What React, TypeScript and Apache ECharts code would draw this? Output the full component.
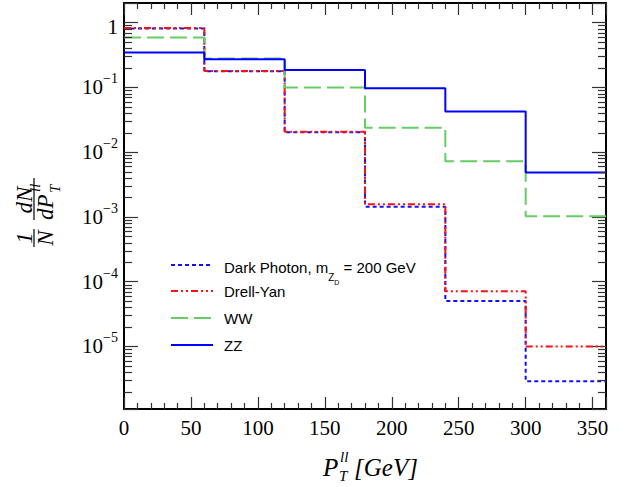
import React, { useEffect, useRef } from 'react';
import * as echarts from 'echarts';

// Bin edges in GeV
const binEdges = [0, 60, 120, 180, 240, 300, 360];
// Normalised distributions (1/N dN/dPT) per bin
const darkPhoton = [0.81, 0.176, 0.0203, 0.00143, 0.00005, 0.0000029];
const drellYan = [0.82, 0.178, 0.0205, 0.00157, 0.000071, 0.00001];
const wwValues = [0.588, 0.279, 0.099, 0.0237, 0.0072, 0.00102];
const zzValues = [0.345, 0.27, 0.185, 0.0966, 0.0423, 0.00484];

const xMin = 0;
const xMax = 360;
const xInterval = 50;
const yMin = 1.08e-6;
const yMax = 2;

const SERIF = "'Liberation Serif', 'Times New Roman', serif";
const SANS = "'Liberation Sans', Arial, sans-serif";
const TICK = '#333333';

function stepData(vals: number[]) {
  return binEdges.map((e, i) => [e, vals[Math.min(i, vals.length - 1)]]);
}

const seriesDefs = [
  { name: 'Dark Photon', data: darkPhoton, color: '#1010ff', width: 2, dash: [4, 3] as any },
  { name: 'Drell-Yan', data: drellYan, color: '#ff1010', width: 2, dash: [7, 3, 2, 3, 2, 3] as any },
  { name: 'WW', data: wwValues, color: '#66cc66', width: 2, dash: [17, 6] as any },
  { name: 'ZZ', data: zzValues, color: '#0000ff', width: 2, dash: 'solid' as any },
];

function minorLogValues() {
  const out: number[] = [];
  for (let k = -7; k <= 1; k++) {
    for (let m = 2; m <= 9; m++) {
      const v = m * Math.pow(10, k);
      if (v > yMin && v < yMax) out.push(v);
    }
  }
  return out;
}

function yLabel(v: number) {
  const l = Math.log10(v);
  const e = Math.round(l);
  if (Math.abs(l - e) > 1e-6) return '';
  if (e === 0) return '{one|1}';
  return '{b|10}{e|' + (e < 0 ? '\u2212' : '') + Math.abs(e) + '}';
}

const yRich = {
  b: { fontFamily: SERIF, fontSize: 21, color: '#000', lineHeight: 21, verticalAlign: 'bottom' },
  e: { fontFamily: SERIF, fontSize: 14, color: '#000', lineHeight: 14, verticalAlign: 'bottom', padding: [0, 0, 12, 0] },
  one: { fontFamily: SERIF, fontSize: 21, color: '#000', lineHeight: 21, padding: [8, 0, 0, 0] },
};

export default function App() {
  const ref = useRef<HTMLDivElement>(null);
  useEffect(() => {
    if (!ref.current) return;
    const chart = echarts.init(ref.current, undefined, { renderer: 'svg' });

    const axisLine = { show: true, onZero: false, lineStyle: { color: '#000', width: 2 } };

    const legendY = [265, 291, 318, 345];
    const legendGraphics: any[] = [];
    seriesDefs.forEach((s, i) => {
      legendGraphics.push({
        type: 'line',
        shape: { x1: 171, y1: legendY[i], x2: 213, y2: legendY[i] },
        style: { stroke: s.color, lineWidth: s.width, lineDash: s.dash === 'solid' ? null : s.dash },
      });
    });
    legendGraphics.push({
      type: 'text',
      x: 224,
      y: legendY[0] + 4,
      style: {
        text: '{t|Dark Photon, m}{s|Z}{ss|D}{t| = 200 GeV}',
        verticalAlign: 'middle',
        rich: {
          t: { fontFamily: SANS, fontSize: 15, lineHeight: 18, verticalAlign: 'top', fill: '#000' },
          s: { fontFamily: SANS, fontSize: 10, lineHeight: 10, verticalAlign: 'top', padding: [12, 0, 0, 0], fill: '#000' },
          ss: { fontFamily: SANS, fontSize: 7, lineHeight: 7, verticalAlign: 'top', padding: [19, 0, 0, 0], fill: '#000' },
        },
      },
    });
    ['Drell-Yan', 'WW', 'ZZ'].forEach((t, i) => {
      legendGraphics.push({
        type: 'text',
        x: 224,
        y: legendY[i + 1],
        style: { text: t, fontFamily: SANS, fontSize: 15, fill: '#000', verticalAlign: 'middle' },
      });
    });

    const it = { fontFamily: SERIF, fontStyle: 'italic', fill: '#000' };

    const xTitle = {
      type: 'group',
      children: [
        { type: 'text', x: 323, y: 467, style: { ...it, text: 'P', fontSize: 25, verticalAlign: 'middle' } },
        { type: 'text', x: 340, y: 457, style: { ...it, text: 'll', fontSize: 15, verticalAlign: 'middle' } },
        { type: 'text', x: 339, y: 476, style: { ...it, text: 'T', fontSize: 15, verticalAlign: 'middle' } },
        { type: 'text', x: 354, y: 467, style: { ...it, text: '[GeV]', fontSize: 25, verticalAlign: 'middle' } },
      ],
    };

    const yTitle = {
      type: 'group',
      x: 34,
      y: 212,
      rotation: Math.PI / 2,
      children: [
        { type: 'text', x: -26, y: -10, style: { ...it, text: '1', fontSize: 23, align: 'center', verticalAlign: 'middle' } },
        { type: 'line', shape: { x1: -35, y1: 0, x2: -17, y2: 0 }, style: { stroke: '#000', lineWidth: 1.2 } },
        { type: 'text', x: -26, y: 11, style: { ...it, text: 'N', fontSize: 23, align: 'center', verticalAlign: 'middle' } },
        { type: 'text', x: 12, y: -10, style: { ...it, text: 'dN', fontSize: 23, align: 'center', verticalAlign: 'middle' } },
        { type: 'line', shape: { x1: -8, y1: 0, x2: 34, y2: 0 }, style: { stroke: '#000', lineWidth: 1.2 } },
        { type: 'text', x: -8, y: 11, style: { ...it, text: 'dP', fontSize: 23, verticalAlign: 'middle' } },
        { type: 'text', x: 20, y: 1, style: { ...it, text: 'll', fontSize: 15, verticalAlign: 'middle' } },
        { type: 'text', x: 19, y: 21, style: { ...it, text: 'T', fontSize: 15, verticalAlign: 'middle' } },
      ],
    };

    const yAxisCommon = {
      type: 'log',
      logBase: 10,
      min: yMin,
      max: yMax,
      axisLine,
      axisTick: { show: true, inside: true, length: 14, lineStyle: { color: TICK, width: 1.2 } },
      splitLine: { show: false },
    };
    const xAxisCommon = {
      type: 'value',
      min: xMin,
      max: xMax,
      interval: xInterval,
      axisLine,
      axisTick: { show: true, inside: true, length: 12, lineStyle: { color: TICK, width: 1.2 } },
      minorTick: { show: true, splitNumber: 5, length: 6, lineStyle: { color: TICK, width: 1.2 } },
      splitLine: { show: false },
      minorSplitLine: { show: false },
    };

    const option: any = {
      animation: false,
      backgroundColor: '#fff',
      grid: { left: 124, right: 29, top: 3, bottom: 78, containLabel: false },
      xAxis: [
        {
          ...xAxisCommon,
          position: 'bottom',
          axisLabel: {
            fontFamily: SERIF,
            fontSize: 21,
            color: '#000',
            margin: 8,
            formatter: (v: number) => (v % xInterval === 0 ? String(v) : ''),
          },
        },
        { ...xAxisCommon, position: 'top', axisLabel: { show: false } },
      ],
      yAxis: [
        { ...yAxisCommon, position: 'left', axisLabel: { margin: 6, formatter: yLabel, rich: yRich } },
        { ...yAxisCommon, position: 'right', axisLabel: { show: false } },
      ],
      series: seriesDefs.map((s) => ({
        name: s.name,
        type: 'line',
        step: 'end',
        xAxisIndex: 0,
        yAxisIndex: 0,
        symbol: 'none',
        data: stepData(s.data),
        lineStyle: { color: s.color, width: s.width, type: s.dash },
        z: 3,
      })),
      graphic: [...legendGraphics, xTitle, yTitle],
    };

    chart.setOption(option);

    // Minor log ticks (2..9 x 10^k), placed through the chart's own y scale
    const xl = Number(chart.convertToPixel({ xAxisIndex: 0 }, xMin));
    const xr = Number(chart.convertToPixel({ xAxisIndex: 0 }, xMax));
    const minorTicks: any[] = [];
    minorLogValues().forEach((v) => {
      const yRaw = Number(chart.convertToPixel({ yAxisIndex: 0 }, v));
      if (isNaN(yRaw)) return;
      const y = Math.round(yRaw) + 0.5;
      minorTicks.push({ type: 'line', silent: true, z: 50, shape: { x1: xl, y1: y, x2: xl + 8, y2: y }, style: { stroke: TICK, lineWidth: 1.2 } });
      minorTicks.push({ type: 'line', silent: true, z: 50, shape: { x1: xr - 8, y1: y, x2: xr, y2: y }, style: { stroke: TICK, lineWidth: 1.2 } });
    });
    chart.setOption({ graphic: [...legendGraphics, xTitle, yTitle, ...minorTicks] });

    return () => chart.dispose();
  }, []);

  return (
    <div
      ref={ref}
      style={{ position: 'fixed', left: 0, top: 0, width: 635, height: 487, background: '#fff' }}
    />
  );
}
